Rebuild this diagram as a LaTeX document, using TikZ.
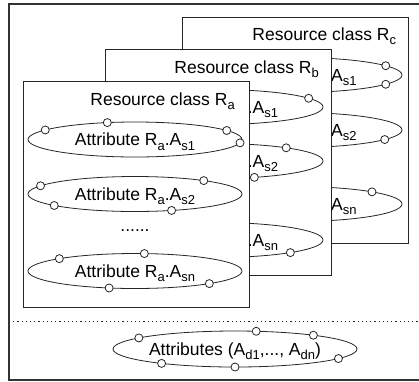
\documentclass[tikz,border=0pt]{standalone}
\usepackage{fontspec}
\setmainfont{Liberation Sans}
\usetikzlibrary{shapes.geometric}
\newcommand\subx[1]{\raisebox{-4.5pt}{\fontsize{13}{13}\selectfont #1}}
\begin{document}
\begin{tikzpicture}[x=1pt,y=-1pt,
  every node/.style={font=\fontsize{17.5}{20}\selectfont},
  line width=0.8pt,
  rbox/.style={draw=black!85, fill=white, minimum width=226pt, minimum height=226pt, inner sep=0pt, anchor=north west},
  ell/.style={draw=black!85, ellipse, minimum width=214pt, minimum height=35pt, inner sep=0pt, text height=12.5pt, text depth=0pt},
  bigell/.style={ell, minimum width=244pt, minimum height=36pt},
  dot/.style={draw=black!85, circle, fill=white, minimum size=8pt, inner sep=0pt},
  lbl/.style={anchor=base west, inner sep=0pt},
  part/.style={anchor=base east, inner sep=0pt}]
\useasboundingbox (0,0) rectangle (419,381);
\draw[line width=1.2pt, black!80] (430,4) -- (9,4) -- (9,380) -- (430,380);
% Resource class Rc
\node[rbox] (rc) at (182,17) {};
\node[lbl] (rcl) at (252,40) {Resource class R\subx{c}};
\node[ell] (c1) at (295,75) {};
\node[ell] (c2) at (295,130) {};
\node[ell] (cn) at (295,204) {};
\node[part] (c1t) at (357,81.25) {A\subx{s1}};
\node[part] (c2t) at (357,136.25) {A\subx{s2}};
\node[part] (cnt) at (357,210.25) {A\subx{sn}};
\node[dot] (c1a) at ([shift={(32:107 and -17.5)}]c1.center) {};
\node[dot] (c1b) at ([shift={(-32:107 and -17.5)}]c1.center) {};
\node[dot] (c2a) at ([shift={(-33:107 and -17.5)}]c2.center) {};
\node[dot] (cna) at ([shift={(44:107 and -17.5)}]cn.center) {};
% Resource class Rb
\node[rbox] (rb) at (105,49) {};
\node[lbl] (rbl) at (174,73) {Resource class R\subx{b}};
\node[ell] (b1) at (216,107) {};
\node[ell] (b2) at (216,161) {};
\node[ell] (bn) at (216,240) {};
\node[part] (b1t) at (278.5,113.25) {.A\subx{s1}};
\node[part] (b2t) at (278.5,167.25) {.A\subx{s2}};
\node[part] (bnt) at (278.5,246.25) {.A\subx{sn}};
\node[dot] (b1a) at ([shift={(30:107 and -17.5)}]b1.center) {};
\node[dot] (b2a) at ([shift={(49:107 and -17.5)}]b2.center) {};
\node[dot] (b2b) at ([shift={(-69:107 and -17.5)}]b2.center) {};
\node[dot] (bna) at ([shift={(-46:107 and -17.5)}]bn.center) {};
% Resource class Ra
\node[rbox] (ra) at (23,81) {};
\node[lbl] (ral) at (90,105) {Resource class R\subx{a}};
\node[ell] (a1) at (135,139.5) {Attribute R\subx{a}.A\subx{s1}};
\node[ell] (a2) at (135,194) {Attribute R\subx{a}.A\subx{s2}};
\node (dots) at (135,230.5) {......};
\node[ell] (an) at (135,271) {Attribute R\subx{a}.A\subx{sn}};
\node[dot] (a1a) at ([shift={(105:107 and -17.5)}]a1.center) {};
\node[dot] (a1b) at ([shift={(147:107 and -17.5)}]a1.center) {};
\node[dot] (a1c) at ([shift={(31:107 and -17.5)}]a1.center) {};
\node[dot] (a1d) at ([shift={(-11:107 and -17.5)}]a1.center) {};
\node[dot] (a2a) at ([shift={(152:107 and -17.5)}]a2.center) {};
\node[dot] (a2b) at ([shift={(50:107 and -17.5)}]a2.center) {};
\node[dot] (a2c) at ([shift={(-139:107 and -17.5)}]a2.center) {};
\node[dot] (a2d) at ([shift={(-70:107 and -17.5)}]a2.center) {};
\node[dot] (ana) at ([shift={(135:107 and -17.5)}]an.center) {};
\node[dot] (anb) at ([shift={(85:107 and -17.5)}]an.center) {};
\node[dot] (anc) at ([shift={(-104:107 and -17.5)}]an.center) {};
\node[dot] (and) at ([shift={(-46:107 and -17.5)}]an.center) {};
% divider
\draw[black!85, line width=0.9pt, dash pattern=on 1.2pt off 3pt] (9,321) -- (419,321);
% domain attributes
\node[bigell] (d) at (235,349) {Attributes (A\subx{d1},..., A\subx{dn})};
\node[dot] (da) at ([shift={(142:122 and -18)}]d.center) {};
\node[dot] (db) at ([shift={(80:122 and -18)}]d.center) {};
\node[dot] (dc) at ([shift={(50:122 and -18)}]d.center) {};
\node[dot] (dd) at ([shift={(-32:122 and -18)}]d.center) {};
\node[dot] (de) at ([shift={(-127:122 and -18)}]d.center) {};
\node[dot] (df) at ([shift={(-90:122 and -18)}]d.center) {};
\end{tikzpicture}
\end{document}
